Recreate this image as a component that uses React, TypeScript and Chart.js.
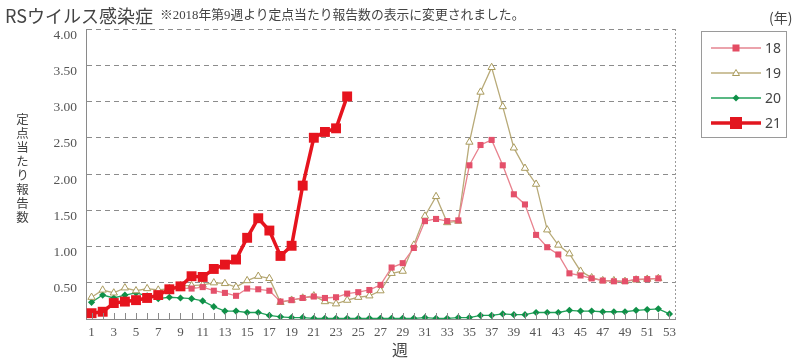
import React, { useEffect, useRef } from "react";
import { Chart, registerables } from "chart.js";
Chart.register(...registerables);

const weeks: number[] = [
  1, 2, 3, 4, 5, 6, 7, 8, 9, 10, 11, 12, 13, 14, 15, 16, 17, 18, 19, 20, 21, 22, 23, 24, 25, 26,
  27, 28, 29, 30, 31, 32, 33, 34, 35, 36, 37, 38, 39, 40, 41, 42, 43, 44, 45, 46, 47, 48, 49, 50,
  51, 52, 53,
];
const yTicks: number[] = [0, 0.5, 1, 1.5, 2, 2.5, 3, 3.5, 4];
const seriesNames: string[] = ["18", "19", "20", "21"];

const s18: (number | null)[] = [
  null, null, null, null, null, null, null, null, 0.43, 0.42, 0.44, 0.39, 0.36, 0.32, 0.42, 0.41,
  0.39, 0.24, 0.26, 0.29, 0.31, 0.29, 0.30, 0.35, 0.37, 0.40, 0.47, 0.71, 0.77, 0.98, 1.35, 1.38,
  1.35, 1.36, 2.12, 2.40, 2.47, 2.12, 1.72, 1.58, 1.16, 0.99, 0.89, 0.63, 0.60, 0.56, 0.53, 0.52,
  0.52, 0.55, 0.55, 0.56, null,
];
const s19: (number | null)[] = [
  0.30, 0.40, 0.36, 0.43, 0.39, 0.42, 0.40, 0.42, 0.46, 0.46, 0.47, 0.50, 0.49, 0.44, 0.53, 0.59,
  0.56, 0.23, 0.26, 0.29, 0.32, 0.24, 0.21, 0.26, 0.30, 0.32, 0.39, 0.63, 0.66, 1.02, 1.42, 1.69,
  1.33, 1.35, 2.44, 3.13, 3.47, 2.93, 2.36, 2.08, 1.86, 1.23, 1.02, 0.90, 0.66, 0.57, 0.53, 0.53,
  0.52, 0.54, 0.55, 0.56, null,
];
const s20: (number | null)[] = [
  0.23, 0.33, 0.29, 0.33, 0.36, 0.32, 0.28, 0.30, 0.29, 0.28, 0.25, 0.17, 0.11, 0.11, 0.09, 0.09,
  0.05, 0.03, 0.02, 0.02, 0.01, 0.01, 0.01, 0.01, 0.01, 0.01, 0.01, 0.01, 0.01, 0.01, 0.02, 0.01,
  0.01, 0.02, 0.02, 0.05, 0.05, 0.07, 0.06, 0.06, 0.09, 0.09, 0.09, 0.12, 0.11, 0.11, 0.10, 0.10,
  0.10, 0.12, 0.13, 0.14, 0.07,
];
const s21: (number | null)[] = [
  0.08, 0.10, 0.22, 0.24, 0.26, 0.29, 0.33, 0.41, 0.45, 0.59, 0.58, 0.69, 0.75, 0.82, 1.12, 1.39,
  1.22, 0.87, 1.01, 1.84, 2.50, 2.58, 2.63, 3.07, null, null, null, null, null, null, null, null,
  null, null, null, null, null, null, null, null, null, null, null, null, null, null, null, null,
  null, null, null, null, null,
];

const pts = (vals: (number | null)[]) => weeks.map((w, i) => ({ x: w, y: vals[i] }));

const extras = {
  id: "extras",
  afterDraw(chart: any) {
    const { ctx, chartArea } = chart;
    const xs = chart.scales.x;
    ctx.save();
    ctx.strokeStyle = "#8a8a8a";
    ctx.lineWidth = 1;
    ctx.beginPath();
    weeks.forEach((w) => {
      const px = Math.round(xs.getPixelForValue(w)) + 0.5;
      ctx.moveTo(px, chartArea.bottom);
      ctx.lineTo(px, chartArea.bottom - 6);
    });
    ctx.stroke();
    ctx.setLineDash([2, 2]);
    ctx.strokeStyle = "#9a9a9a";
    ctx.beginPath();
    const rx = Math.round(chartArea.right) + 0.5;
    ctx.moveTo(rx, chartArea.top);
    ctx.lineTo(rx, chartArea.bottom);
    ctx.stroke();
    ctx.restore();
  },
};

const legendItems = [
  { name: seriesNames[0], line: "#e58590", lw: 1.5, marker: "rect", fill: "#e44c63", stroke: "#e44c63", size: 7 },
  { name: seriesNames[1], line: "#bcae7c", lw: 1.3, marker: "tri", fill: "#ffffff", stroke: "#a99a5c", size: 7 },
  { name: seriesNames[2], line: "#22a05a", lw: 1.5, marker: "diamond", fill: "#0f9048", stroke: "#0f9048", size: 7 },
  { name: seriesNames[3], line: "#e2161f", lw: 3.5, marker: "rect", fill: "#e2161f", stroke: "#e2161f", size: 12 },
];

function Marker({ it }: { it: any }) {
  const cx = 25, cy = 7, s = it.size / 2;
  let m: any = null;
  if (it.marker === "rect") m = <rect x={cx - s} y={cy - s} width={it.size} height={it.size} fill={it.fill} />;
  else if (it.marker === "tri")
    m = <polygon points={`${cx},${cy - s} ${cx + s},${cy + s - 1} ${cx - s},${cy + s - 1}`} fill={it.fill} stroke={it.stroke} strokeWidth={1} />;
  else m = <polygon points={`${cx},${cy - s} ${cx + s},${cy} ${cx},${cy + s} ${cx - s},${cy}`} fill={it.fill} />;
  return (
    <svg width={50} height={14} style={{ position: "absolute", left: 0, top: 0 }}>
      <line x1={0} y1={cy} x2={50} y2={cy} stroke={it.line} strokeWidth={it.lw} />
      {m}
    </svg>
  );
}

export default function App() {
  const ref = useRef<HTMLCanvasElement>(null);
  useEffect(() => {
    if (!ref.current) return;
    const chart = new Chart(ref.current, {
      type: "line",
      data: {
        datasets: [
          {
            label: seriesNames[3], data: pts(s21), borderColor: "#e6141e", backgroundColor: "#e6141e",
            borderWidth: 3.5, pointStyle: "rect", pointRadius: 7, pointBackgroundColor: "#e6141e",
            pointBorderColor: "#e6141e", pointBorderWidth: 0, order: 1, spanGaps: false,
          },
          {
            label: seriesNames[0], data: pts(s18), borderColor: "#e8828e", backgroundColor: "#e4506a",
            borderWidth: 1.3, pointStyle: "rect", pointRadius: 4.3, pointBackgroundColor: "#e4506a",
            pointBorderColor: "#e4506a", pointBorderWidth: 0, order: 2, spanGaps: false,
          },
          {
            label: seriesNames[1], data: pts(s19), borderColor: "#b8aa78", backgroundColor: "#ffffff",
            borderWidth: 1.3, pointStyle: "triangle", pointRadius: 4.2, pointBackgroundColor: "#ffffff",
            pointBorderColor: "#a99a5c", pointBorderWidth: 1, order: 3, spanGaps: false,
          },
          {
            label: seriesNames[2], data: pts(s20), borderColor: "#22a05a", backgroundColor: "#0f9048",
            borderWidth: 1.3, pointStyle: "rectRot", pointRadius: 3.6, pointBackgroundColor: "#0f9048",
            pointBorderColor: "#0f9048", pointBorderWidth: 0, order: 4, spanGaps: false,
          },
        ] as any,
      },
      options: {
        animation: false,
        responsive: false,
        events: [],
        layout: { padding: { left: 0, right: 125, top: 29, bottom: 0 } },
        plugins: { legend: { display: false }, tooltip: { enabled: false } },
        scales: {
          x: {
            type: "linear",
            min: 0.5,
            max: 53.5,
            afterBuildTicks: (s: any) => { s.ticks = weeks.map((w) => ({ value: w })); },
            afterFit: (s: any) => { s.height = 42; },
            grid: { display: false, drawTicks: false },
            border: { display: true, color: "#8a8a8a", width: 1 },
            ticks: {
              autoSkip: false, maxRotation: 0, padding: 6, color: "#555",
              font: { family: "'Liberation Serif', serif", size: 13 },
              callback: (v: any) => (Number(v) % 2 === 1 ? String(v) : ""),
            },
          },
          y: {
            min: 0,
            max: 4,
            afterBuildTicks: (s: any) => { s.ticks = yTicks.map((v) => ({ value: v })); },
            afterFit: (s: any) => { s.width = 86; },
            grid: {
              drawTicks: false,
              color: (c: any) => (c.tick && c.tick.value === 0 ? "rgba(0,0,0,0)" : "#8c8c8c"),
              lineWidth: 1,
            } as any,
            border: { display: true, color: "#8a8a8a", width: 1, dash: [5, 4] } as any,
            ticks: {
              padding: 9, color: "#555", labelOffset: 6,
              font: { family: "'Liberation Serif', serif", size: 13.5 },
              callback: (v: any) => (Number(v) === 0 ? "" : Number(v).toFixed(2)),
            },
          },
        },
      } as any,
      plugins: [extras],
    });
    return () => chart.destroy();
  }, []);

  const cjk = "'Noto Sans CJK JP', 'Noto Sans', sans-serif";
  return (
    <div style={{ position: "absolute", left: 0, top: 0, width: 800, height: 361, background: "#fff", overflow: "hidden" }}>
      <canvas ref={ref} width={800} height={361} style={{ position: "absolute", left: 0, top: 0, width: 800, height: 361 }} />
      <div style={{ position: "absolute", left: 5, top: 4, fontFamily: cjk, fontSize: 18, lineHeight: "22px", color: "#444", whiteSpace: "nowrap" }}>
        RSウイルス感染症
      </div>
      <div style={{ position: "absolute", left: 160, top: 8, fontFamily: "'Liberation Serif', 'Noto Sans CJK JP', serif", fontSize: 12.8, lineHeight: "14px", color: "#444", whiteSpace: "nowrap" }}>
        ※2018年第9週より定点当たり報告数の表示に変更されました。
      </div>
      <div style={{ position: "absolute", left: 15, top: 113, fontFamily: cjk, fontSize: 12.5, lineHeight: "15px", color: "#444", writingMode: "vertical-rl", textOrientation: "upright", letterSpacing: "1.5px" } as any}>
        定点当たり報告数
      </div>
      <div style={{ position: "absolute", left: 392, top: 340, fontFamily: cjk, fontSize: 16, lineHeight: "18px", color: "#444" }}>週</div>
      <div style={{ position: "absolute", left: 769, top: 9, fontFamily: cjk, fontSize: 14, lineHeight: "16px", color: "#444", whiteSpace: "nowrap" }}>(年)</div>
      <div style={{ position: "absolute", left: 701, top: 31, width: 86, height: 107, border: "1px solid #9a9a9a", boxSizing: "border-box" }}>
        {legendItems.map((it, i) => (
          <div key={it.name} style={{ position: "absolute", left: 9, top: 9 + i * 25, width: 80, height: 14 }}>
            <Marker it={it} />
            <div style={{ position: "absolute", left: 54, top: -2, fontFamily: "'Noto Sans', sans-serif", fontSize: 14, lineHeight: "18px", color: "#444" }}>
              {it.name}
            </div>
          </div>
        ))}
      </div>
    </div>
  );
}
